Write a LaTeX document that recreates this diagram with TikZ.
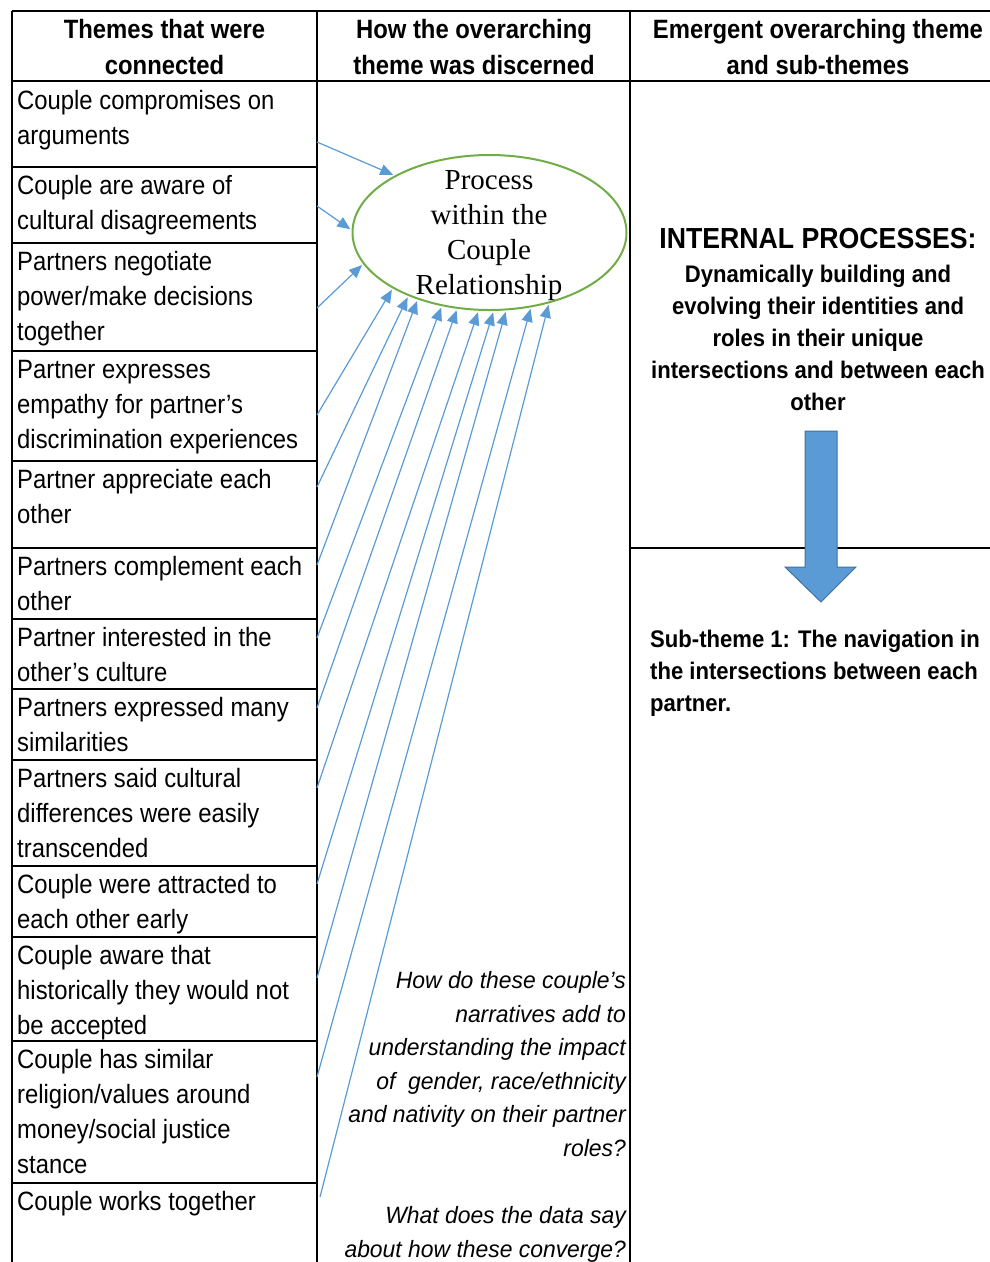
\documentclass[tikz,border=0pt]{standalone}
\usepackage{fontspec}
\setmainfont{Liberation Sans}[FakeStretch=0.9]
\newfontfamily\subfont{Liberation Sans}[FakeStretch=0.92]
\newfontfamily\notefont{Liberation Sans}[FakeStretch=0.97]
\newfontfamily\ovalfont{Liberation Serif}
\usetikzlibrary{arrows.meta,shapes}
\definecolor{linkblue}{RGB}{91,155,213}
\definecolor{arrowedge}{RGB}{65,113,156}
\definecolor{ovalgreen}{RGB}{112,173,71}
\tikzset{
  tabline/.style={line width=2.4pt},
  head/.style={anchor=north,inner sep=0pt,align=center,font=\bfseries\fontsize{26.5}{36}\selectfont},
  theme/.style={anchor=north west,inner sep=0pt,align=left,font=\fontsize{26.5}{35}\selectfont},
  link/.style={linkblue,line width=1.2pt,shorten >=1.5pt,-{Triangle[length=13pt,width=11pt]}},
}

\begin{document}
\begin{tikzpicture}[x=1pt,y=-1pt]
\useasboundingbox (0,0) rectangle (990,1262);
\begin{scope}[tabline]
\draw (12,11) -- (990,11);
\draw (12,81) -- (990,81);
\draw (12,11) -- (12,1262);
\draw (317,11) -- (317,1262);
\draw (630,11) -- (630,1262);
\draw (12,167) -- (317,167);
\draw (12,243) -- (317,243);
\draw (12,351) -- (317,351);
\draw (12,461) -- (317,461);
\draw (12,548) -- (317,548);
\draw (12,619) -- (317,619);
\draw (12,689) -- (317,689);
\draw (12,760) -- (317,760);
\draw (12,866) -- (317,866);
\draw (12,937) -- (317,937);
\draw (12,1041) -- (317,1041);
\draw (12,1183) -- (317,1183);
\end{scope}
\draw[line width=1.8pt] (630,548) -- (990,548);

\node[head] (h1) at (164.5,13) {\strut Themes that were\\connected};
\node[head] (h2) at (474,13) {\strut How the overarching\\theme was discerned};
\node[head] (h3) at (818,13) {\strut Emergent overarching theme\\and sub-themes};

\node[theme] (t1) at (17,85) {\strut Couple compromises on\\arguments};
\node[theme] (t2) at (17,170) {\strut Couple are aware of\\cultural disagreements};
\node[theme] (t3) at (17,246) {\strut Partners negotiate\\power/make decisions\\together};
\node[theme] (t4) at (17,354) {\strut Partner expresses\\empathy for partner’s\\discrimination experiences};
\node[theme] (t5) at (17,464) {\strut Partner appreciate each\\other};
\node[theme] (t6) at (17,551) {\strut Partners complement each\\other};
\node[theme] (t7) at (17,622) {\strut Partner interested in the\\other’s culture};
\node[theme] (t8) at (17,692) {\strut Partners expressed many\\similarities};
\node[theme] (t9) at (17,763) {\strut Partners said cultural\\differences were easily\\transcended};
\node[theme] (t10) at (17,869) {\strut Couple were attracted to\\each other early};
\node[theme] (t11) at (17,940) {\strut Couple aware that\\historically they would not\\be accepted};
\node[theme] (t12) at (17,1044) {\strut Couple has similar\\religion/values around\\money/social justice\\stance};
\node[theme] (t13) at (17,1186) {\strut Couple works together};

\node[draw=ovalgreen,line width=2pt,ellipse,minimum width=274pt,minimum height=155pt,inner sep=0pt] (rel) at (489.5,232.5) {};
\node[anchor=north,inner sep=0pt,align=center,font=\ovalfont\fontsize{29}{35}\selectfont] (relt) at (489,165) {\strut Process\\within the\\Couple\\Relationship};

\coordinate (s1) at (317,142);
\coordinate (s2) at (317,206);
\coordinate (s3) at (317,308);
\coordinate (s4) at (317,415);
\coordinate (s5) at (317,487);
\coordinate (s6) at (317,565);
\coordinate (s7) at (317,638);
\coordinate (s8) at (317,708);
\coordinate (s9) at (317,788);
\coordinate (s10) at (317,884);
\coordinate (s11) at (317,978);
\coordinate (s12) at (317,1077);
\coordinate (s13) at (320,1197);
\begin{scope}[link]
\draw (s1) -- (rel.149.5);
\draw (s2) -- (rel.179);
\draw (s3) -- (rel.194);
\draw (s4) -- (rel.210.5);
\draw (s5) -- (rel.218);
\draw (s6) -- (rel.223);
\draw (s7) -- (rel.237);
\draw (s8) -- (rel.247);
\draw (s9) -- (rel.262);
\draw (s10) -- (rel.273);
\draw (s11) -- (rel.282);
\draw (s12) -- (rel.299);
\draw (s13) -- (rel.310);
\end{scope}

\node[anchor=north east,inner sep=0pt,align=right,font=\notefont\itshape\fontsize{23.6}{33.5}\selectfont] (q) at (626,965) {\strut How do these couple’s\\narratives add to\\understanding the impact\\of~ gender, race/ethnicity\\and nativity on their partner\\roles?\\[34pt]What does the data say\\about how these converge?};

\node[inner sep=0pt,font=\subfont\bfseries\fontsize{29}{35}\selectfont] (ip) at (818,239) {INTERNAL PROCESSES:};
\node[anchor=north,inner sep=0pt,align=center,font=\subfont\bfseries\fontsize{24}{32}\selectfont] (ipd) at (818,260) {\strut Dynamically building and\\evolving their identities and\\roles in their unique\\intersections and between each\\other};
\draw[fill=linkblue,draw=arrowedge,line width=1pt] (805,431) -- (837,431) -- (837,567) -- (856,567) -- (821,602) -- (785,567) -- (805,567) -- cycle;
\node[anchor=north west,inner sep=0pt,align=left,font=\subfont\bfseries\fontsize{24}{32}\selectfont] (st1) at (650,625) {\strut Sub-theme 1: The navigation in\\the intersections between each\\partner.};
\end{tikzpicture}
\end{document}
